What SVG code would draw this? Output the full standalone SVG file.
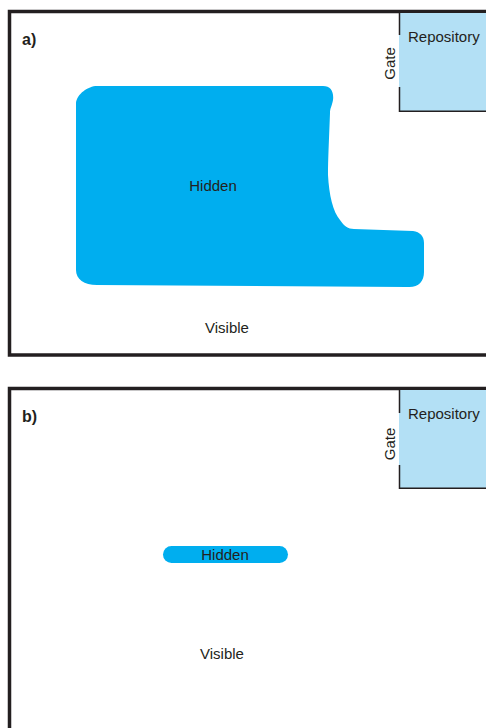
<svg xmlns="http://www.w3.org/2000/svg" width="486" height="728" viewBox="0 0 486 728">
<style>
.frame{fill:#fff;stroke:#231f20;stroke-width:3.5}
.repo{fill:#b3e0f5}
.edge{fill:none;stroke:#231f20;stroke-width:1.5}
.hid{fill:#00aeef}
.t{font-family:"Liberation Sans",Arial,sans-serif;font-size:15px;fill:#231f20}
.lbl{font-family:"Liberation Sans",Arial,sans-serif;font-size:16px;font-weight:bold;fill:#231f20}
</style>
<rect width="486" height="728" fill="#fff"/>
<g id="panel-a">
  <rect class="frame" x="9.5" y="11.5" width="500" height="343.5"/>
  <text class="lbl" x="22" y="45">a)</text>
  <g id="a-repository">
    <rect class="repo" x="399" y="13" width="90" height="98"/>
    <path class="edge" d="M399.5 13 V35 M399.5 87 V111.2 H489"/>
    <text class="t" x="408" y="42">Repository</text>
  </g>
  <g id="a-gate">
    <text class="t" transform="translate(394.5,63.5) rotate(-90)" text-anchor="middle">Gate</text>
  </g>
  <g id="a-hidden">
    <path class="hid" d="M76 103 C77 94 88 86 97 86 L323 86 C331 86 334 92 333 100 C332 106 330 108 330 113 C329 140 328 160 328 175 C329 195 333 212 340 220 C344 226 348 229 354 229 L413 231 C420 232 424 236 424 243 L424 272 C424 282 418 288 407 287 L97 285 C84 285 76 279 76 270 Z"/>
    <text class="t" x="213" y="191" text-anchor="middle">Hidden</text>
  </g>
  <g id="a-visible">
    <text class="t" x="227" y="333" text-anchor="middle">Visible</text>
  </g>
</g>
<g id="panel-b">
  <rect class="frame" x="9.5" y="388.5" width="500" height="360"/>
  <text class="lbl" x="22" y="422">b)</text>
  <g id="b-repository">
    <rect class="repo" x="399" y="390" width="90" height="98"/>
    <path class="edge" d="M399.5 390 V413 M399.5 465 V488.2 H489"/>
    <text class="t" x="408" y="419">Repository</text>
  </g>
  <g id="b-gate">
    <text class="t" transform="translate(394.5,444) rotate(-90)" text-anchor="middle">Gate</text>
  </g>
  <g id="b-hidden">
    <rect class="hid" x="163" y="546" width="125" height="17" rx="8.5"/>
    <text class="t" x="225" y="560" text-anchor="middle">Hidden</text>
  </g>
  <g id="b-visible">
    <text class="t" x="222" y="659" text-anchor="middle">Visible</text>
  </g>
</g>
<g id="connectors"></g>
</svg>
